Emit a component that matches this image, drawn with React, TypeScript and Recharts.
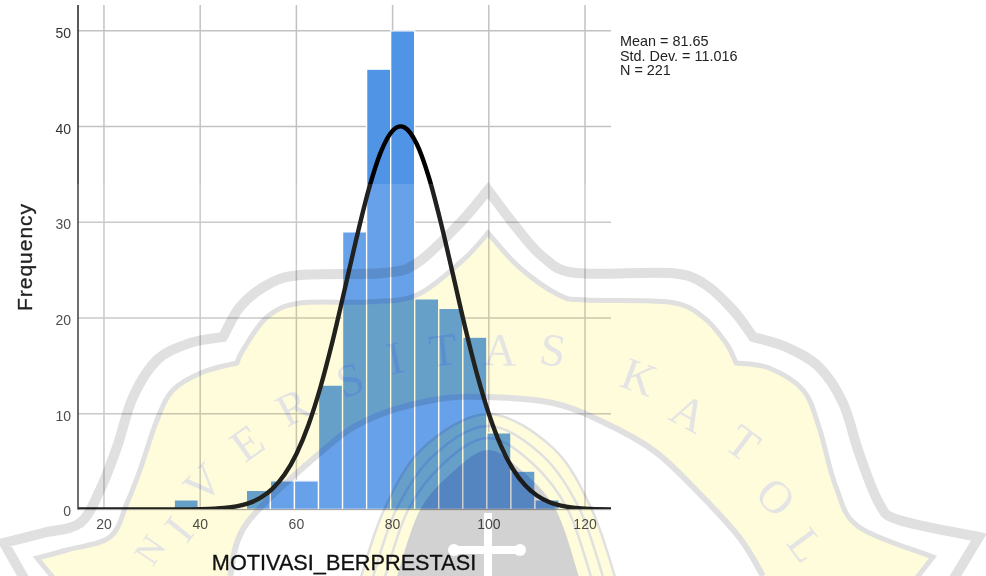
import React from "react";
import { ComposedChart, Bar, Line, XAxis, YAxis, CartesianGrid } from "recharts";

// ---- data ----
const binCenters = [17.1, 22.1, 27.1, 32.1, 37.1, 42.1, 47.1, 52.1, 57.1, 62.1, 67.1, 72.1, 77.1, 82.1, 87.1, 92.1, 97.1, 102.1, 107.1, 112.1, 117.1, 122.1];
const binCounts = [null, null, null, null, 1, null, null, 2, 3, 3, 13, 29, 46, 50, 22, 21, 18, 8, 4, 1, null, null];
const curveX = [14.6, 20, 25, 30, 35, 37.5, 40, 45, 47.5, 50, 52.5, 55, 57.5, 60, 62.5, 65, 67.5, 70, 72.5, 75, 77.5, 80, 81.65, 82.5, 85, 87.5, 90, 92.5, 95, 97.5, 100, 102.5, 105, 107.5, 110, 112.5, 115, 117.5, 120, 125.4];
const curveY = [0, 0, 0, 0.001, 0.005, 0.012, 0.031, 0.158, 0.328, 0.645, 1.21, 2.15, 3.62, 5.8, 8.83, 12.77, 17.54, 22.9, 28.35, 33.36, 37.28, 39.57, 40.02, 39.9, 38.2, 34.76, 30.03, 24.64, 19.2, 14.22, 10.0, 6.67, 4.23, 2.55, 1.46, 0.79, 0.41, 0.2, 0.093, 0.015];
const xTicks = [20, 40, 60, 80, 100, 120];
const yTicks = [0, 10, 20, 30, 40, 50];
const statLines = ["Mean = 81.65", "Std. Dev. = 11.016", "N = 221"];

const barRows = binCenters.map((x, i) => ({ x, count: binCounts[i] }));
const curveRows = curveX.map((x, i) => ({ x, curve: curveY[i] }));

// ---- faint seal behind the page ----
type P = number[];
const outerLeft: P[] = [[488, 190], [460, 223], [417, 263], [383, 273], [300, 275], [267, 285], [240, 307], [223, 337]];
const outerLeft2: P[] = [[223, 337], [190, 343], [157, 360], [133, 397], [117, 447], [100, 490], [80, 523], [43, 533], [4, 543]];
const outerRight: P[] = [[488, 190], [516, 227], [543, 257], [576, 273], [669, 273], [703, 283], [733, 310], [753, 337]];
const outerRight2: P[] = [[753, 337], [786, 347], [819, 367], [843, 403], [859, 453], [879, 503], [899, 520], [979, 537]];
const innerLeft: P[] = [[237, 363], [243, 350], [267, 317], [300, 303], [367, 302], [417, 295], [463, 260], [488, 233]];
const innerLeft2: P[] = [[37, 558], [67, 550], [110, 537], [127, 503], [140, 470], [157, 420], [173, 390], [203, 372], [237, 363]];
const innerRight: P[] = [[488, 233], [519, 267], [559, 295], [586, 300], [669, 302], [703, 317], [726, 343], [736, 363]];
const innerRight2: P[] = [[736, 363], [769, 368], [803, 390], [819, 427], [836, 487], [859, 527], [933, 557]];
const lowerArc: P[] = [[763, 576], [739, 537], [693, 487], [653, 450], [603, 422], [553, 403], [488, 397], [433, 400], [367, 420], [320, 453], [247, 523], [230, 576]];
const sealLetters: [string, number, number, number][] = [
  ["N", 150, 550, 36], ["I", 179, 529, 46], ["V", 203, 483, 46], ["E", 247, 443, 46], ["R", 293, 407, 46], ["S", 350, 380, 46], ["I", 395, 358, 46], ["T", 443, 350, 46],
  ["A", 500, 350, 46], ["S", 553, 350, 46], ["K", 639, 377, 46], ["A", 689, 413, 46], ["T", 743, 443, 46], ["O", 776, 497, 46], ["L", 806, 545, 46],
];

const cr = (p: P[], cmd: string) => {
  let d = `${cmd}${p[0][0]} ${p[0][1]}`;
  for (let i = 0; i < p.length - 1; i++) {
    const a = p[i - 1] || p[i], b = p[i], c = p[i + 1], e = p[i + 2] || c;
    d += `C${b[0] + (c[0] - a[0]) / 6} ${b[1] + (c[1] - a[1]) / 6} ${c[0] - (e[0] - b[0]) / 6} ${c[1] - (e[1] - b[1]) / 6} ${c[0]} ${c[1]}`;
  }
  return d;
};
const dome = (o: number): P[] => [
  [396 - o, 580], [420 - o, 510], [455 - o * 0.9, 470 - o * 0.6], [488, 450 - o], [521 + o * 0.9, 470 - o * 0.6], [556 + o, 510], [580 + o, 580],
];
const rev = (p: P[]) => [...p].reverse();

const yellowShape =
  "M55 580L37 558" + cr(innerLeft2, "L") + cr(innerLeft, "L") + cr(innerRight, "L") + cr(innerRight2, "L") + "L915 580" + cr(lowerArc, "L") + "Z";
const outerBand =
  "M25 580L4 543" + cr(rev(outerLeft2), "L") + cr(rev(outerLeft), "L") + cr(outerRight, "L") + cr(outerRight2, "L") + "L953 580";
const innerBand =
  "M55 580L37 558" + cr(innerLeft2, "L") + cr(innerLeft, "L") + cr(innerRight, "L") + cr(innerRight2, "L") + "L915 580";

const SANS = "'Liberation Sans', Arial, sans-serif";
const GRAY = "#e0e0e0";
const YELLOW = "#fffcdb";

function Seal() {
  return (
    <>
      <svg width={986} height={576} style={{ position: "absolute", left: 0, top: 0, pointerEvents: "none" }}>
        <rect x={0} y={184} width={986} height={392} fill="#fff" opacity={0.13} />
      </svg>
      <svg width={986} height={576} style={{ position: "absolute", left: 0, top: 0, pointerEvents: "none", mixBlendMode: "multiply" }}>
        <path d={yellowShape} fill={YELLOW} />
        <path d={outerBand} fill="none" stroke={GRAY} strokeWidth={10} strokeLinejoin="miter" />
        <path d={innerBand} fill="none" stroke={GRAY} strokeWidth={5} />
        <path d={cr(lowerArc, "M")} fill="none" stroke={GRAY} strokeWidth={6} />
        <path d={cr(dome(36), "M") + "Z"} fill={YELLOW} stroke={GRAY} strokeWidth={2.5} />
        <path d={cr(dome(24), "M")} fill="none" stroke={GRAY} strokeWidth={2.5} />
        <path d={cr(dome(12), "M")} fill="none" stroke={GRAY} strokeWidth={2.5} />
        <path d={cr(dome(0), "M") + "Z"} fill="#d2d2d2" />
        <rect x={484} y={513} width={8} height={67} fill="#fff" />
        <rect x={452} y={546} width={70} height={8} rx={4} fill="#fff" />
        <circle cx={454} cy={550} r={6} fill="#fff" />
        <circle cx={520} cy={550} r={6} fill="#fff" />
        {sealLetters.map(([ch, x, y, fs], i) => (
          <text
            key={i}
            x={x}
            y={y}
            textAnchor="middle"
            dominantBaseline="central"
            fontFamily="'Liberation Serif', serif"
            fontSize={fs}
            fill="#e4e4e4"
            transform={`rotate(${(Math.atan2(x - 490, 780 - y) * 180) / Math.PI} ${x} ${y})`}
          >
            {ch}
          </text>
        ))}
      </svg>
    </>
  );
}

export default function App() {
  return (
    <div style={{ position: "absolute", left: 0, top: 0, width: 986, height: 576, overflow: "hidden", background: "#fff", filter: "blur(0.45px)" }}>
      <ComposedChart
        width={986}
        height={576}
        data={barRows}
        margin={{ top: 5, right: 375, bottom: 0, left: 0 }}
        barCategoryGap={0}
      >
        <CartesianGrid stroke="#c2c2c2" strokeWidth={1.5} horizontalValues={yTicks} verticalValues={xTicks} />
        <XAxis
          dataKey="x"
          type="number"
          domain={[14.6, 125.4]}
          ticks={xTicks}
          allowDataOverflow
          height={66.5}
          tickLine={false}
          tickSize={0}
          tickMargin={10}
          axisLine={{ stroke: "#999" }}
          tick={{ fontSize: 14, fontFamily: SANS, fill: "#333" }}
          interval={0}
        />
        <XAxis xAxisId="curve" dataKey="x" type="number" domain={[14.6, 125.4]} allowDataOverflow hide />
        <YAxis
          type="number"
          domain={[0, 52.7]}
          ticks={yTicks}
          allowDataOverflow
          width={78}
          tickLine={false}
          tickSize={0}
          tickMargin={7}
          axisLine={{ stroke: "#222", strokeWidth: 1.5 }}
          tick={{ fontSize: 14, fontFamily: SANS, fill: "#333", dy: 2 }}
          interval={0}
        />
        <Bar dataKey="count" fill="#5094e6" stroke="#fff" strokeWidth={1.3} barSize={24} isAnimationActive={false} />
        <Line xAxisId="curve" data={curveRows} dataKey="curve" type="monotone" stroke="#000" strokeWidth={4.4} dot={false} activeDot={false} isAnimationActive={false} />
      </ComposedChart>
      <Seal />
      <div
        style={{
          position: "absolute", left: 25, top: 257, transform: "translate(-50%,-50%) rotate(-90deg)",
          fontFamily: SANS, fontSize: 21, letterSpacing: 1, color: "#222", whiteSpace: "nowrap", WebkitTextStroke: "0.3px #222",
        }}
      >
        Frequency
      </div>
      <div
        style={{
          position: "absolute", left: 344, top: 563, transform: "translate(-50%,-50%)",
          fontFamily: SANS, fontSize: 21.7, color: "#111", whiteSpace: "nowrap", WebkitTextStroke: "0.3px #111",
        }}
      >
        MOTIVASI_BERPRESTASI
      </div>
      <div style={{ position: "absolute", left: 620, top: 34, fontFamily: SANS, fontSize: 14.4, lineHeight: "14.5px", color: "#222", whiteSpace: "nowrap" }}>
        {statLines.map((s) => (
          <div key={s}>{s}</div>
        ))}
      </div>
    </div>
  );
}
